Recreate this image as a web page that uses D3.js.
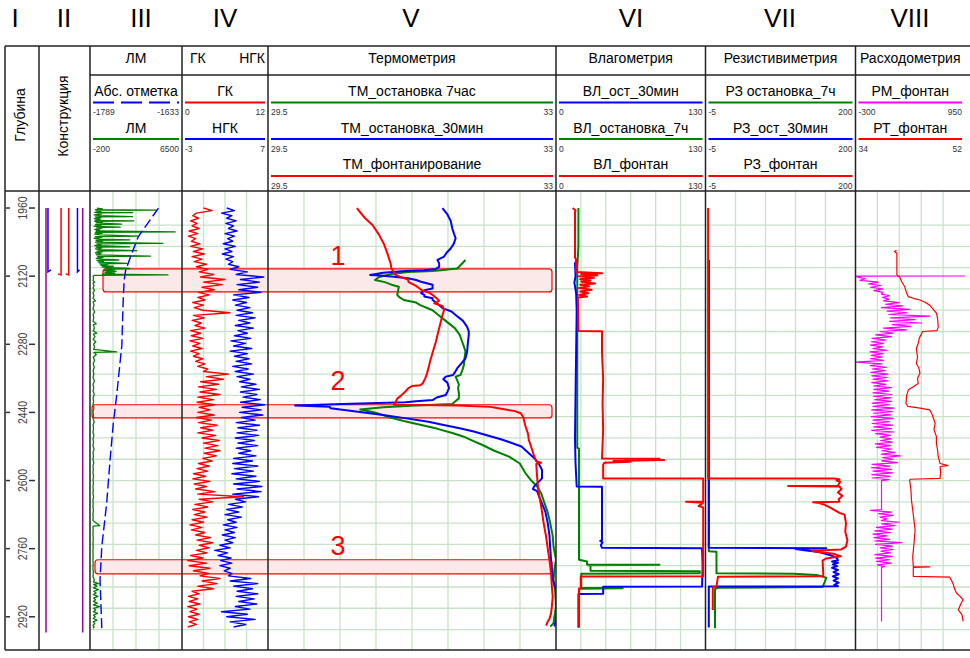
<!DOCTYPE html>
<html><head><meta charset="utf-8">
<script src="https://cdn.jsdelivr.net/npm/d3@7"></script>
<style>body{margin:0;background:#fff}svg{display:block;font-family:"Liberation Sans",Arial,sans-serif}</style>
</head><body><svg id="c" width="970" height="658"></svg>
<script>
// ---------------- DATA ----------------
const romanLabels = ["I","II","III","IV","V","VI","VII","VIII"];
const trackTitles = ["", "", "ЛМ", "", "Термометрия", "Влагометрия", "Резистивиметрия", "Расходометрия"];
const depthTicks = [1960, 2120, 2280, 2440, 2600, 2760, 2920];
const zoneLabels = ["1", "2", "3"];
const zoneTops = [2103, 2422, 2786];
const zoneBottoms = [2157, 2453, 2819];

// construction: casing / tubing bottoms (m)
const casingBottom = 2957, tubingBottom = 2110, innerBottom = 2117, pipeTop = 1960;

const legendNames = ["Абс. отметка","ЛМ","ГК","НГК","ТМ_остановка 7час","ТМ_остановка_30мин","ТМ_фонтанирование",
  "ВЛ_ост_30мин","ВЛ_остановка_7ч","ВЛ_фонтан","РЗ остановка_7ч","РЗ_ост_30мин","РЗ_фонтан","РМ_фонтан","РТ_фонтан"];
const legendMin = [-1789,-200,0,-3,29.5,29.5,29.5,0,0,0,-5,-5,-5,-300,34];
const legendMax = [-1633,6500,12,7,33,33,33,130,130,130,200,200,200,950,52];
const legendMinText = ["-1789","-200","0","-3","29.5","29.5","29.5","0","0","0","-5","-5","-5","-300","34"];
const legendMaxText = ["-1633","6500","12","7","33","33","33","130","130","130","200","200","200","950","52"];

// Абс. отметка (depth, m)
const absOtm = [[1960,-1673],[1988,-1687],[2027,-1707],[2066,-1718],[2106,-1728.5],[2129,-1731],[2168,-1732.5],
  [2282,-1735],[2399,-1743.7],[2466,-1749.5],[2552,-1755],[2653,-1760.7],[2755,-1769],[2833,-1772],[2947,-1769]];

// ЛМ
const lm = [[1960,300],[1962,700],[1964,200],[1965,4680],[1966,250],[1968,600],[1970,150],[1971,2900],[1972,300],[1974,650],
 [1976,100],[1978,500],[1980,2900],[1981,200],[1983,600],[1985,120],[1987,550],[1989,200],[1990,3000],[1991,150],
 [1993,700],[1995,250],[1998,2100],[1999,200],[2001,600],[2003,100],[2005,2000],[2006,300],[2008,650],[2010,150],
 [2012,500],[2014,250],[2016,6000],[2017,200],[2019,700],[2021,150],[2023,550],[2026,3300],[2027,200],[2029,650],
 [2031,100],[2033,500],[2035,2700],[2036,250],[2038,700],[2040,200],[2043,5100],[2044,300],[2046,600],[2048,150],
 [2051,2700],[2052,250],[2054,650],[2056,200],[2058,550],[2060,3200],[2061,300],[2063,700],[2065,200],[2067,600],
 [2070,250],[2073,4200],[2074,350],[2076,750],[2078,250],[2080,700],[2082,1900],[2083,300],[2085,800],[2087,400],
 [2090,2500],[2091,500],[2093,1100],[2095,600],[2097,1500],[2099,700],[2102,2700],[2103,900],[2105,1600],[2107,800],
 [2109,1700],[2111,900],[2113,1600],[2115,700],[2117,5480],[2118,100],[2120,30],
 [2126,60],[2130,20],[2134,150],[2136,20],[2142,90],[2148,25],[2154,130],[2158,20],[2166,80],[2172,20],[2178,200],[2180,30],
 [2188,90],[2196,20],[2204,140],[2210,30],[2218,70],[2226,20],[2232,250],[2234,40],[2242,120],[2248,30],[2254,300],[2256,40],
 [2262,160],[2268,30],[2274,220],[2280,50],[2286,140],[2292,60],[2298,1750],[2299,80],[2304,260],[2310,40],[2318,130],[2326,30],
 [2334,110],[2342,25],[2350,80],[2358,20],[2366,120],[2374,20],[2382,70],[2390,25],[2398,110],[2406,20],[2414,60],[2422,20],
 [2430,90],[2438,15],[2446,50],[2454,20],[2462,100],[2470,20],[2478,60],[2486,15],[2494,80],[2502,20],[2510,60],[2518,15],
 [2526,90],[2534,20],[2542,50],[2550,15],[2558,70],[2566,20],[2574,40],[2582,15],[2590,60],[2598,20],[2606,50],[2614,15],
 [2622,40],[2630,15],[2638,60],[2646,15],[2654,30],[2662,15],[2670,50],[2678,15],[2686,30],[2694,15],[2706,520],[2707,20],
 [2716,30],[2726,15],[2736,40],[2746,15],[2756,30],[2766,15],[2776,25],[2786,15],[2796,30],[2806,15],[2816,40],[2826,20],
 [2834,120],[2838,40],[2842,450],[2844,60],[2848,300],[2852,50],[2856,420],[2860,70],[2864,250],[2868,40],[2872,380],[2876,60],
 [2880,200],[2884,50],[2888,330],[2892,40],[2896,500],[2900,60],[2904,220],[2908,40],[2912,350],[2916,50],[2920,180],[2924,40],
 [2928,300],[2932,30],[2936,150],[2940,20],[2944,100],[2947,20]];

// ГК and НГК: sampled every 6 m from 1960
const logStart = 1960, logStep = 6;
const gk = [
 3.0,4.2,2.0,1.5,2.3,1.2,2.1,1.4,2.4,1.0,
 2.2,0.9,1.9,1.3,2.5,1.2,2.9,1.6,3.1,1.4,
 2.8,1.7,3.4,2.0,3.6,2.4,4.4,2.6,6.0,3.0,
 5.6,2.8,4.5,2.3,3.8,2.2,3.2,1.5,3.0,1.7,
 2.9,6.7,1.6,3.1,1.4,2.7,1.8,3.2,1.2,2.6,
 1.3,2.9,1.1,2.5,1.5,2.8,1.2,2.4,1.6,2.9,
 1.9,3.2,2.2,3.6,3.0,6.5,3.4,5.8,2.6,5.1,
 2.3,4.8,2.5,5.3,2.2,4.4,2.1,4.6,2.4,3.9,
 2.2,4.5,2.0,4.1,2.3,4.9,2.6,4.3,2.2,4.7,
 2.8,5.2,3.0,5.0,3.2,5.3,3.1,4.8,2.9,4.2,
 2.3,3.8,2.1,3.6,1.6,3.3,1.5,3.9,1.7,3.4,
 1.9,4.6,2.2,8.6,2.4,4.3,1.8,3.6,1.5,3.2,
 1.7,3.5,1.4,3.0,1.1,2.8,1.3,3.2,1.9,4.0,
 2.1,4.3,2.4,3.8,2.0,3.5,1.2,2.9,0.8,3.4,
 1.0,3.9,1.6,3.7,2.5,5.3,2.8,4.9,2.2,4.4,
 1.4,2.4,0.9,2.2,1.0,2.5,0.8,2.1,1.1,2.4,
 0.9,2.2,1.0,2.0,0.8];
const ngk = [
 2.2,3.1,1.6,2.8,2.2,3.3,2.1,3.0,2.4,3.4,
 2.0,3.1,2.3,2.9,1.8,3.2,2.0,2.8,1.7,3.0,
 2.1,2.9,2.4,3.6,2.6,4.6,3.3,6.5,3.8,6.0,
 3.4,5.8,3.6,6.2,3.0,4.8,2.9,4.5,3.2,4.9,
 3.4,5.2,3.3,5.5,3.6,4.9,3.2,5.3,3.5,4.6,
 3.1,5.0,2.7,4.4,3.0,5.1,2.6,4.6,3.1,4.8,
 3.3,5.1,2.9,4.7,3.2,5.3,3.4,4.9,3.7,5.6,
 3.9,6.0,3.8,5.7,4.1,6.1,3.8,6.6,4.0,6.2,
 3.7,6.4,3.9,5.5,3.3,6.0,3.5,5.7,3.4,5.9,
 3.2,5.4,3.5,5.8,3.3,5.0,3.6,5.6,3.0,5.2,
 2.9,5.8,3.1,5.3,2.8,5.6,3.3,6.0,3.0,6.3,
 3.4,6.2,2.9,5.9,3.2,4.4,2.4,4.0,2.2,3.6,
 2.0,3.9,2.3,3.3,1.8,3.4,2.0,3.1,1.7,3.2,
 2.0,2.9,1.4,2.6,0.8,2.3,1.2,2.7,1.5,2.8,
 1.4,2.6,1.9,2.8,2.4,5.0,2.6,5.8,3.0,5.2,
 3.4,5.8,3.3,5.4,3.6,5.7,3.2,4.9,1.6,4.6,
 2.2,5.5,2.6,4.4,3.0];

// Термометрия
const tm7h = [[2082,31.9],[2092,31.85],[2102,31.8],[2106,31.6],[2108,31.5],[2110,31.2],[2115,31.0],[2122,30.85],[2129,30.8],
 [2134,30.92],[2140,31.0],[2145,31.09],[2155,31.08],[2164,31.07],[2170,31.1],[2176,31.15],[2182,31.3],[2188,31.35],[2200,31.5],
 [2211,31.57],[2225,31.66],[2242,31.77],[2258,31.83],[2274,31.86],[2285,31.88],[2297,31.9],[2310,31.89],[2329,31.88],[2342,31.86],
 [2352,31.84],[2356,31.78],[2365,31.8],[2375,31.82],[2383,31.81],[2395,31.82],[2407,31.82],[2415,31.77],[2420,31.74],[2424,31.3],
 [2428,30.9],[2433,30.62],[2440,30.8],[2450,30.95],[2460,31.15],[2469,31.35],[2478,31.55],[2489,31.75],[2497,31.88],[2505,31.97],
 [2516,32.1],[2530,32.25],[2544,32.43],[2560,32.56],[2583,32.63],[2600,32.7],[2614,32.77],[2630,32.82],[2653,32.86],[2675,32.9],
 [2700,32.93],[2730,32.96],[2755,32.97],[2786,33.0],[2810,32.98],[2833,32.97],[2860,32.99],[2896,33.0],[2920,32.98],[2935,32.97],[2943,32.93]];
const tm30m = [[1960,31.62],[1975,31.68],[1990,31.72],[2008,31.74],[2020,31.76],[2031,31.78],[2043,31.76],[2055,31.72],[2065,31.67],
 [2074,31.64],[2082,31.56],[2090,31.58],[2098,31.58],[2103,31.54],[2106,31.4],[2108,31.17],[2112,30.9],[2117,30.74],[2119,30.9],
 [2121,31.0],[2125,31.2],[2129,31.3],[2133,31.36],[2140,31.5],[2149,31.5],[2153,31.4],[2160,31.36],[2164,31.4],[2168,31.4],
 [2172,31.5],[2176,31.5],[2185,31.56],[2195,31.62],[2203,31.73],[2211,31.78],[2225,31.87],[2239,31.92],[2250,31.94],[2258,31.94],
 [2275,31.93],[2297,31.92],[2313,31.9],[2325,31.85],[2336,31.8],[2346,31.77],[2352,31.75],[2356,31.66],[2362,31.63],[2370,31.68],
 [2383,31.7],[2392,31.68],[2399,31.66],[2405,31.55],[2411,31.5],[2414,31.3],[2416,31.17],[2420,30.4],[2424,29.83],[2427,30.25],
 [2430,30.26],[2438,30.57],[2446,30.9],[2454,31.18],[2462,31.45],[2469,31.62],[2477,31.83],[2485,32.0],[2495,32.18],[2503,32.33],
 [2509,32.42],[2520,32.58],[2536,32.67],[2548,32.74],[2560,32.79],[2575,32.83],[2595,32.83],[2605,32.78],[2615,32.73],[2620,32.72],
 [2625,32.77],[2640,32.8],[2673,32.87],[2700,32.9],[2728,32.92],[2760,32.93],[2786,32.94],[2810,32.95],[2833,32.96],[2845,32.98],
 [2853,33.0],[2880,33.0],[2927,33.0],[2943,32.98]];
const tmFont = [[1960,30.58],[1984,30.68],[2000,30.77],[2023,30.85],[2045,30.91],[2066,30.95],[2090,30.99],[2102,31.0],[2117,31.05],
 [2121,31.1],[2128,31.2],[2134,31.21],[2143,31.3],[2153,31.37],[2158,31.45],[2164,31.5],[2172,31.55],[2178,31.58],[2184,31.52],
 [2190,31.62],[2199,31.64],[2212,31.62],[2227,31.6],[2250,31.57],[2274,31.54],[2300,31.5],[2320,31.47],[2336,31.45],[2350,31.43],
 [2360,31.41],[2372,31.38],[2376,31.35],[2378,31.25],[2384,31.2],[2391,31.17],[2400,31.12],[2408,31.07],[2416,31.05],[2422,31.03],
 [2424,31.8],[2427,32.2],[2432,32.35],[2437,32.5],[2442,32.57],[2450,32.6],[2473,32.63],[2490,32.66],[2505,32.67],[2516,32.69],
 [2540,32.73],[2555,32.76],[2558,32.82],[2561,32.76],[2590,32.77],[2614,32.78],[2640,32.8],[2661,32.82],[2700,32.85],[2732,32.88],
 [2760,32.9],[2786,32.92],[2818,32.94],[2850,32.95],[2873,32.96],[2895,32.95],[2912,32.94],[2925,32.92],[2931,32.9],[2941,32.88]];

// Влагометрия
const vl30m = [[2082,18],[2090,16.5],[2120,17],[2135,16],[2160,17.5],[2200,18],[2300,17.5],[2400,17],[2500,16.5],[2560,17],
 [2614,18],[2614.5,40],[2700,40],[2740,40],[2742,38.5],[2745,40.5],[2752,39],[2758,40],[2759,127],[2800,127.5],[2849,127],
 [2849.5,41],[2866,41],[2866.5,19.5],[2945,19.5]];
const vl7h = [[1960,19.5],[2050,19.5],[2100,18.5],[2300,18.5],[2523,18.5],[2525,20],[2786,20],[2790,27],[2797,27],[2797.5,90],
 [2799,28],[2800,30],[2812,30],[2813,125],[2818,125],[2819,22],[2852,22],[2853,58],[2854,20],[2945,20]];
const vlFont = [[1960,14.5],[1966,17],[1970,16.5],[2077,16.5],[2080,17.5],[2110,17.5],[2113,40],[2115,22],[2118,36],[2120,20],
 [2124,33],[2127,21],[2130,30],[2133,22],[2137,34],[2140,21],[2144,29],[2148,20],[2152,31],[2156,21],[2160,28],[2164,20],
 [2168,27],[2170,19],[2249,19.5],[2249.5,40],[2300,40],[2360,41],[2420,40.5],[2480,41],[2548,40],[2549,90],[2551,60],[2552,94],
 [2554,50],[2556,65],[2558,42],[2563,41],[2595,41],[2595.5,128],[2640,128],[2649,128],[2650,113],[2652,128],[2660,124],
 [2663,128],[2825,128],[2825.5,21.5],[2853,21.5],[2854,20],[2943,20]];

// Резистивиметрия
const rz7h = [[2082,-0.5],[2766,-0.5],[2767,10],[2818,10],[2819,115],[2822,147],[2828,160],[2838,158],[2850,155],[2852,12],
 [2855,8],[2947,8]];
const rz30m = [[2082,-0.5],[2758,-0.5],[2759,160],[2761,118],[2764,130],[2768,150],[2775,165],[2781,174],[2787,176],[2790,168],
 [2793,176],[2797,169],[2801,175],[2805,168],[2810,176],[2815,170],[2820,177],[2825,169],[2830,176],[2835,170],[2840,177],
 [2845,171],[2848,176],[2849,-0.5],[2945,-0.5]];
const rzFont = [[1960,-1.4],[2595,-1.4],[2595.5,172],[2597,178],[2600,174],[2603,179],[2612,176],[2613,108],[2614,178],
 [2620,181],[2628,176],[2636,182],[2644,177],[2650,178],[2651,142],[2653,150],[2657,158],[2663,165],[2670,172],[2676,178],
 [2680,185],[2700,187],[2720,186],[2740,189],[2755,187],[2762,180],[2765,140],[2768,150],[2772,170],[2778,180],[2783,160],
 [2788,155],[2820,156],[2825,155],[2826,12],[2849,10],[2851,5],[2904,5]];

// Расходометрия: РМ sampled every 4 m in two logged intervals
const rmStartA = 2122, rmStartB = 2670, rmStep = 4;
const rmA = [
 -285,-190,-250,-40,-150,-10,-130,10,-90,15,
 -5,90,10,80,20,200,40,240,-5,320,
 60,290,80,550,100,380,90,455,120,330,
 20,280,-20,130,-70,110,-110,50,-120,20,
 -130,10,-100,60,-135,15,-120,5,-130,20,
 -297,0,-130,55,-110,40,-125,70,-115,60,
 -100,70,-115,45,-95,110,-90,80,-100,115,
 -95,100,-80,112,-110,90,-100,140,-115,120,
 -95,105,-120,130,-100,90,-110,125,-90,110,
 -115,140,-70,100,-20,110,-15,120,-75,100,
 -60,115,0,150,-5,210,10,130,-3,180,
 -110,90,-120,110,-100,125,-115,95,-110,80];
const rmB = [
 -130,110,-40,130,-20,60,-5,200,0,150,
 -60,120,-80,100,-100,60,-90,90,-80,230,
 -70,120,-20,130,-10,100,-80,120,-70,90,
 -60,110,-50,30];
const rmHead = [[2119.6,950],[2120,-300],[2121,-240]];
const rmGap = [[2600,-3],[2668,-3]];
const rmTail = [[2804,-3],[2931,-3]];
const rtFont = [[2059,40.75],[2062,40.4],[2066,40.8],[2117,40.8],[2123,41.3],[2133,41.6],[2145,42.1],[2160,42.4],[2168,42.7],
 [2172,43.5],[2176,44.6],[2182,45.5],[2188,46.2],[2198,46.8],[2207,47.3],[2220,47.5],[2239,47.6],[2248,47.4],[2250,45],
 [2254,44.9],[2265,44.5],[2278,44.3],[2290,44.0],[2310,44.2],[2325,44.0],[2335,44.4],[2348,44.6],[2360,44.2],[2372,44.3],
 [2380,43.5],[2387,42.7],[2400,42.4],[2419,42.3],[2426,42.6],[2430,44.6],[2434,46.2],[2445,46.6],[2466,47.1],[2480,46.9],
 [2497,47.3],[2513,47.3],[2530,47.5],[2544,47.6],[2560,47.9],[2565,49.2],[2567,47.9],[2580,48.0],[2595,47.9],[2597,43.0],
 [2599,42.9],[2620,43.1],[2646,43.2],[2680,43.5],[2716,43.8],[2750,43.6],[2780,43.4],[2802,43.5],[2803,46.2],[2804,43.5],
 [2825,43.5],[2827,49.5],[2835,49.8],[2845,50.1],[2855,50.3],[2864,50.6],[2872,51.2],[2880,51.7],[2890,51.3],[2904,50.9],
 [2915,51.5],[2931,51.7]];

// ---------------- LAYOUT ----------------
const svg = d3.select("#c");
const edges = [5, 39, 90, 182, 268, 556, 705.5, 855.5, 965];
const TOP = 46, ROW1 = 75, BODY = 191, BOT = 650, RIGHT = 970;
const romanX = [15, 64, 141, 225, 411, 631, 780, 910];
const gridDivs = {2:4, 3:4, 4:8, 5:6, 6:5, 7:5};
const GREEN = "#008000", BLUE = "#0000ff", RED = "#ff0000", MAG = "#ff00ff", PURP = "#990099";
const legendColor = [BLUE, GREEN, RED, BLUE, GREEN, BLUE, RED, BLUE, GREEN, RED, GREEN, BLUE, RED, MAG, RED];
const legendTrack = [2,2,3,3,4,4,4,5,5,5,6,6,6,7,7];
const legendRow = [0,1,0,1,0,1,2,0,1,2,0,1,2,0,1];
const rowName = [95.5, 132.5, 169], rowLine = [102.5, 139, 176], rowLbl = [115, 152, 188.5];

const y = d3.scaleLinear().domain([1920, 2998]).range([BODY, BOT]);
const tl = i => edges[i], tr = i => edges[i + 1];
function xs(trackIdx, legendIdx) {
  return d3.scaleLinear().domain([legendMin[legendIdx], legendMax[legendIdx]]).range([tl(trackIdx), tr(trackIdx)]);
}

svg.append("rect").attr("width", 970).attr("height", 658).attr("fill", "#fff");

const defs = svg.append("defs");
for (let t = 0; t < 8; t++) {
  defs.append("clipPath").attr("id", "clip" + t).append("rect")
    .attr("x", tl(t)).attr("y", BODY).attr("width", (t === 7 ? RIGHT : tr(t)) - tl(t)).attr("height", BOT - BODY);
}

// grid
const gridG = svg.append("g").attr("stroke", "#c8e2c8").attr("stroke-width", 1.3);
const hLines = d3.range(2000, 2951, 50);
for (let t = 2; t < 8; t++) {
  const n = gridDivs[t], w = tr(t) - tl(t);
  for (let k = 1; k < n; k++) {
    const x = tl(t) + k * w / n;
    gridG.append("line").attr("x1", x).attr("x2", x).attr("y1", BODY).attr("y2", BOT);
  }
  hLines.forEach(d => gridG.append("line").attr("x1", tl(t)).attr("x2", t === 7 ? RIGHT : tr(t)).attr("y1", y(d)).attr("y2", y(d)));
}

// zones
const zoneX0 = [103, 92, 95], zoneX1 = 552;
zoneTops.forEach((top, i) => {
  svg.append("rect").attr("x", zoneX0[i]).attr("y", y(top)).attr("width", zoneX1 - zoneX0[i]).attr("height", y(zoneBottoms[i]) - y(top))
    .attr("rx", 3).attr("fill", "#fbe9e9").attr("stroke", RED).attr("stroke-width", 1.2);
});

function curve(track, data, scale, color, width, dash) {
  const line = d3.line().x(d => scale(d[1])).y(d => y(d[0]));
  const p = svg.append("path").attr("clip-path", "url(#clip" + track + ")").attr("d", line(data))
    .attr("fill", "none").attr("stroke", color).attr("stroke-width", width).attr("stroke-linejoin", "round");
  if (dash) p.attr("stroke-dasharray", dash);
}
const series = (start, step, vals) => vals.map((v, i) => [start + i * step, v]);

// Track II construction
const cx = d3.scaleLinear().domain([-168, 168]).range([46, 82.7]);
const cG = svg.append("g").attr("fill", "none").attr("stroke-width", 1.5);
[-168, 168].forEach(d => cG.append("line").attr("x1", cx(d)).attr("x2", cx(d)).attr("y1", y(pipeTop)).attr("y2", y(casingBottom)).attr("stroke", PURP));
[-150, 120].forEach((d, i) => cG.append("path").attr("stroke", BLUE)
  .attr("d", `M${cx(d)},${y(pipeTop)}V${y(tubingBottom)}l${i ? 2 : 3},-2`));
[-30, 40].forEach(d => cG.append("path").attr("stroke", RED)
  .attr("d", `M${cx(d)},${y(pipeTop)}V${y(innerBottom)}l-3,-1`));

// Track III
curve(2, lm, xs(2, 1), GREEN, 1.3);
curve(2, absOtm, xs(2, 0), BLUE, 1.4, "10,4");
// Track IV
curve(3, series(logStart, logStep, gk), xs(3, 2), RED, 1.4);
curve(3, series(logStart, logStep, ngk), xs(3, 3), BLUE, 1.4);
// Track V
curve(4, tm7h, xs(4, 4), GREEN, 2);
curve(4, tm30m, xs(4, 5), BLUE, 2);
curve(4, tmFont, xs(4, 6), RED, 2);
// Track VI
curve(5, vl7h, xs(5, 8), GREEN, 2);
curve(5, vl30m, xs(5, 7), BLUE, 2);
curve(5, vlFont, xs(5, 9), RED, 2);
// Track VII
curve(6, rz7h, xs(6, 10), GREEN, 2);
curve(6, rz30m, xs(6, 11), BLUE, 2);
curve(6, rzFont, xs(6, 12), RED, 2);
// Track VIII
const rmData = rmHead.concat(series(rmStartA, rmStep, rmA), rmGap, series(rmStartB, rmStep, rmB), rmTail);
curve(7, rmData, xs(7, 13), MAG, 1.2);
curve(7, rtFont, xs(7, 14), RED, 1.2);

// zone labels
const zoneLabelY = [265, 390, 555];
zoneLabels.forEach((l, i) => svg.append("text").attr("x", 338).attr("y", zoneLabelY[i]).attr("text-anchor", "middle")
  .attr("font-size", 27).attr("fill", RED).text(l));

// depth axis
depthTicks.forEach(d => {
  const yy = y(d);
  svg.append("line").attr("x1", 6).attr("x2", 10).attr("y1", yy).attr("y2", yy).attr("stroke", "#333").attr("stroke-width", 1.5);
  svg.append("line").attr("x1", 29).attr("x2", 35).attr("y1", yy).attr("y2", yy).attr("stroke", "#333").attr("stroke-width", 1.5);
  svg.append("text").attr("transform", `translate(22,${yy}) rotate(-90) scale(0.8,1)`).attr("text-anchor", "middle")
    .attr("dominant-baseline", "central").attr("font-size", 13).attr("fill", "#444").text(d);
});

// roman numerals
romanLabels.forEach((r, i) => svg.append("text").attr("x", romanX[i]).attr("y", 27).attr("text-anchor", "middle")
  .attr("font-size", 26).attr("fill", "#000").text(r));

// header titles
svg.append("text").attr("transform", "translate(20,115) rotate(-90)").attr("text-anchor", "middle").attr("dominant-baseline", "central")
  .attr("font-size", 14).text("Глубина");
svg.append("text").attr("transform", "translate(63,116) rotate(-90)").attr("text-anchor", "middle").attr("dominant-baseline", "central")
  .attr("font-size", 14).text("Конструкция");
trackTitles.forEach((t, i) => {
  if (!t) return;
  svg.append("text").attr("x", (tl(i) + tr(i)) / 2).attr("y", 63).attr("text-anchor", "middle").attr("font-size", 14).text(t);
});
svg.append("text").attr("x", 190).attr("y", 63).attr("font-size", 14).text("ГК");
svg.append("text").attr("x", 265).attr("y", 63).attr("text-anchor", "end").attr("font-size", 14).text("НГК");

// legends
legendNames.forEach((n, i) => {
  const t = legendTrack[i], r = legendRow[i];
  const x0 = tl(t) + 3, x1 = tr(t) - 3;
  svg.append("text").attr("x", (tl(t) + tr(t)) / 2).attr("y", rowName[r]).attr("text-anchor", "middle").attr("font-size", 14).text(n);
  const ln = svg.append("line").attr("x1", x0).attr("x2", x1).attr("y1", rowLine[r]).attr("y2", rowLine[r])
    .attr("stroke", legendColor[i]).attr("stroke-width", 2);
  if (i === 0) ln.attr("stroke-dasharray", "21,7");
  svg.append("text").attr("x", x0).attr("y", rowLbl[r]).attr("font-size", 8.5).attr("fill", "#333").text(legendMinText[i]);
  svg.append("text").attr("x", x1).attr("y", rowLbl[r]).attr("text-anchor", "end").attr("font-size", 8.5).attr("fill", "#333").text(legendMaxText[i]);
});

// frame
const fG = svg.append("g").attr("stroke", "#222").attr("stroke-width", 1.5).attr("fill", "none");
fG.append("line").attr("x1", 5).attr("x2", RIGHT).attr("y1", TOP).attr("y2", TOP);
fG.append("line").attr("x1", 5).attr("x2", RIGHT).attr("y1", BODY).attr("y2", BODY);
fG.append("line").attr("x1", 5).attr("x2", RIGHT).attr("y1", BOT).attr("y2", BOT);
fG.append("line").attr("x1", edges[2]).attr("x2", RIGHT).attr("y1", ROW1).attr("y2", ROW1);
edges.slice(0, 8).forEach(x => fG.append("line").attr("x1", x).attr("x2", x).attr("y1", TOP).attr("y2", BOT));
</script></body></html>
